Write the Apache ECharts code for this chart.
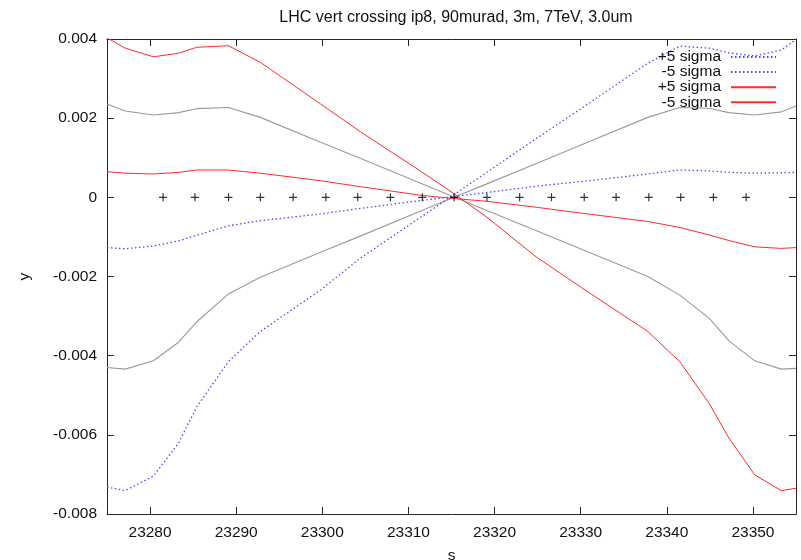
<!DOCTYPE html>
<html>
<head>
<meta charset="utf-8">
<script src="https://cdn.jsdelivr.net/npm/echarts@6/dist/echarts.min.js"></script>
<style>
  html, body { margin: 0; padding: 0; background: #fff; }
  #chart { width: 801px; height: 560px; }
</style>
</head>
<body>
<div id="chart"></div>
<script>
// Longitudinal positions s [m] at which the envelopes are sampled
const sPts = [23275, 23277.1, 23280.4, 23283.3, 23285.4, 23289.1, 23292.8, 23299.8, 23304.4,
  23311.5, 23315.3, 23319.1, 23324.8, 23330.1, 23337.8, 23341.5, 23344.9, 23347.2, 23350.2,
  23353.3, 23355];

// Vertical offsets y [m]
const grayUpper = [0.00236, 0.00218, 0.00208, 0.00214, 0.00224, 0.00227, 0.00202, 0.00139, 0.000985,
  0.00035, 0.00001, -0.00033, -0.00084, -0.00131, -0.00200, -0.00247, -0.00305, -0.00362, -0.00413,
  -0.00434, -0.00432];
const grayLower = [-0.00430, -0.00434, -0.00413, -0.00366, -0.00315, -0.00244, -0.00202, -0.00139, -0.00098,
  -0.00034, 0.00000, 0.00034, 0.00085, 0.00133, 0.00202, 0.00227, 0.00225, 0.00214, 0.00208,
  0.00216, 0.00231];
const bluePlus = [-0.00732, -0.00741, -0.00704, -0.00621, -0.00530, -0.00415, -0.00339, -0.00234, -0.00154,
  -0.00049, 0.00007, 0.00063, 0.00148, 0.00225, 0.00339, 0.00382, 0.00377, 0.00365, 0.00357,
  0.00372, 0.00399];
const blueMinus = [-0.00127, -0.00130, -0.00123, -0.00110, -0.00096, -0.00072, -0.00059, -0.00042, -0.00028,
  -0.00008, 0.00002, 0.00012, 0.00028, 0.00040, 0.00059, 0.00069, 0.00067, 0.00063, 0.00061,
  0.00062, 0.00063];
const redPlus = [0.00403, 0.00377, 0.00355, 0.00364, 0.00379, 0.00383, 0.00341, 0.00236, 0.00166,
  0.00065, 0.00009, -0.00050, -0.00150, -0.00228, -0.00339, -0.00415, -0.00520, -0.00608, -0.00701,
  -0.00741, -0.00735];
const redMinus = [0.00065, 0.00061, 0.00059, 0.00063, 0.00069, 0.00069, 0.00061, 0.00042, 0.00027,
  0.00005, -0.00003, -0.00010, -0.00025, -0.00040, -0.00061, -0.00076, -0.00095, -0.00109, -0.00125,
  -0.00129, -0.00127];

// Element positions on the reference orbit (y = 0)
const elementS = [23281.5, 23285.2, 23289.1, 23292.8, 23296.6, 23300.4, 23304.1, 23307.9, 23311.6,
  23315.3, 23319.1, 23322.9, 23326.6, 23330.4, 23334.1, 23337.9, 23341.6, 23345.4, 23349.2];

// Axis ticks
const xTicks = [23280, 23290, 23300, 23310, 23320, 23330, 23340, 23350];
const yTicks = [-0.008, -0.006, -0.004, -0.002, 0, 0.002, 0.004];

const legendLabels = {
  b1p: '+5 sigma',
  b1m: '-5 sigma',
  b2p: '+5 sigma',
  b2m: '-5 sigma'
};

const FONT = '"Liberation Sans", Arial, Helvetica, sans-serif';
const FS = 15.5;
const AXIS_COLOR = '#262626';

function pairs(ys) {
  return sPts.map((s, i) => [s, ys[i]]);
}

function lineSeries(name, ys, color, type, width) {
  return {
    name: name,
    type: 'line',
    data: pairs(ys),
    symbol: 'none',
    showSymbol: false,
    smooth: false,
    silent: true,
    lineStyle: { color: color, width: width, type: type, cap: 'butt' },
    itemStyle: { color: color },
    z: 3
  };
}

const blueColor = '#4a4aff';
const redColor = '#ff2a2a';
const grayColor = '#9a9a9a';

const chart = echarts.init(document.getElementById('chart'), null, { renderer: 'canvas' });

chart.setOption({
  animation: false,
  backgroundColor: '#ffffff',
  title: {
    text: 'LHC vert crossing ip8, 90murad, 3m, 7TeV, 3.0um',
    left: 451,
    top: 5,
    textAlign: 'center',
    textStyle: { fontFamily: FONT, fontSize: 16, fontWeight: 'normal', color: '#111' }
  },
  grid: { left: 107, right: 5, top: 39, bottom: 46, containLabel: false, outerBoundsMode: 'none' },
  legend: {
    orient: 'vertical',
    right: 19,
    top: 44,
    align: 'right',
    itemWidth: 45,
    itemHeight: 2,
    itemGap: -0.9,
    itemStyle: { opacity: 0 },
    data: ['b1p', 'b1m', 'b2p', 'b2m'],
    formatter: name => '{t|' + legendLabels[name] + '}',
    textStyle: {
      fontFamily: FONT, fontSize: FS, color: '#111',
      rich: { t: { fontFamily: FONT, fontSize: FS, color: '#111', width: 64, align: 'right', lineHeight: 15.2, padding: [0, 5, 0, 0] } }
    },
    selectedMode: false
  },
  xAxis: [
    {
      type: 'value',
      min: 23275,
      max: 23355,
      position: 'bottom',
      name: 's',
      nameLocation: 'middle',
      nameGap: 34,
      nameTextStyle: { fontFamily: FONT, fontSize: FS, color: '#111' },
      axisLine: { show: true, onZero: false, lineStyle: { color: AXIS_COLOR, width: 1 } },
      axisTick: { show: true, inside: true, length: 7, customValues: xTicks, lineStyle: { color: AXIS_COLOR } },
      axisLabel: { show: true, customValues: xTicks, margin: 11, fontFamily: FONT, fontSize: FS, color: '#111', formatter: v => String(v) },
      splitLine: { show: false }
    },
    {
      type: 'value',
      min: 23275,
      max: 23355,
      position: 'top',
      axisLine: { show: true, onZero: false, lineStyle: { color: AXIS_COLOR, width: 1 } },
      axisTick: { show: true, inside: true, length: 7, customValues: xTicks, lineStyle: { color: AXIS_COLOR } },
      axisLabel: { show: false },
      splitLine: { show: false }
    }
  ],
  yAxis: [
    {
      type: 'value',
      min: -0.008,
      max: 0.004,
      position: 'left',
      name: 'y',
      nameLocation: 'middle',
      nameGap: 74,
      nameRotate: 90,
      nameTextStyle: { fontFamily: FONT, fontSize: FS, color: '#111' },
      axisLine: { show: true, onZero: false, lineStyle: { color: AXIS_COLOR, width: 1 } },
      axisTick: { show: true, inside: true, length: 7, customValues: yTicks, lineStyle: { color: AXIS_COLOR } },
      axisLabel: {
        show: true, customValues: yTicks, margin: 10, fontFamily: FONT, fontSize: FS, color: '#111',
        formatter: v => (Math.abs(v) < 1e-12 ? '0' : v.toFixed(3))
      },
      splitLine: { show: false }
    },
    {
      type: 'value',
      min: -0.008,
      max: 0.004,
      position: 'right',
      axisLine: { show: true, onZero: false, lineStyle: { color: AXIS_COLOR, width: 1 } },
      axisTick: { show: true, inside: true, length: 7, customValues: yTicks, lineStyle: { color: AXIS_COLOR } },
      axisLabel: { show: false },
      splitLine: { show: false }
    }
  ],
  series: [
    lineSeries('grayUpper', grayUpper, grayColor, 'solid', 1.1),
    lineSeries('grayLower', grayLower, grayColor, 'solid', 1.1),
    lineSeries('b1p', bluePlus, blueColor, [1.5, 2.5], 1.3),
    lineSeries('b1m', blueMinus, blueColor, [1.5, 2.5], 1.3),
    lineSeries('b2p', redPlus, redColor, 'solid', 1),
    lineSeries('b2m', redMinus, redColor, 'solid', 1),
    {
      name: 'elements',
      type: 'scatter',
      data: elementS.map(s => [s, 0]),
      symbol: 'path://M3.5,0h1.2v8h-1.2z M0,3.4h8v1.2h-8z',
      symbolSize: 8,
      itemStyle: { color: '#000' },
      silent: true,
      z: 4
    }
  ]
});
</script>
</body>
</html>
